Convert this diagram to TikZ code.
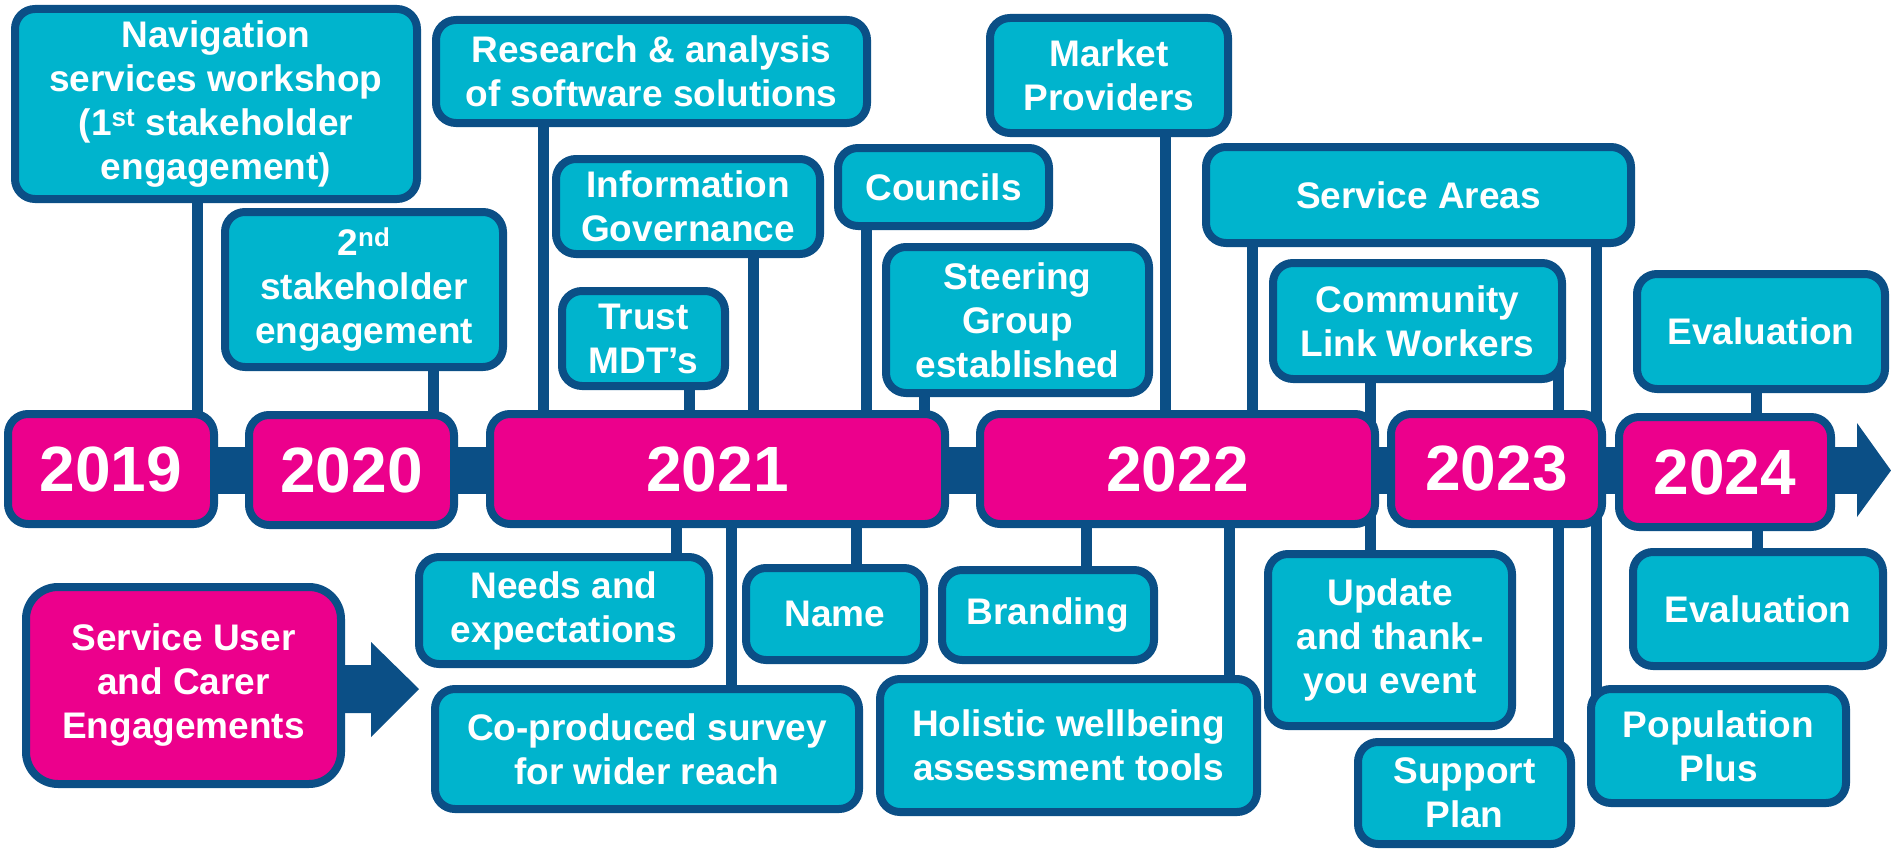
\documentclass[tikz,border=0pt]{standalone}
\usepackage{fontspec}
\setmainfont{Liberation Sans}
\usetikzlibrary{backgrounds}

\definecolor{boxcyan}{HTML}{00B4CD}
\definecolor{yearpink}{HTML}{EC008C}
\definecolor{edgeblue}{HTML}{0B4F86}

\tikzset{
  tbox/.style={draw=edgeblue, line width=8pt, fill=boxcyan, rounded corners=20pt,
    text=white, font=\bfseries\fontsize{37}{44}\selectfont, align=center, inner sep=0pt},
  ybox/.style={tbox, fill=yearpink, font=\bfseries\fontsize{64}{70}\selectfont},
  sbox/.style={tbox, fill=yearpink, rounded corners=32pt},
  conn/.style={draw=edgeblue, line width=11pt},
  band/.style={fill=edgeblue},
}

\begin{document}
\begin{tikzpicture}[x=1pt, y=-1pt]
\useasboundingbox (0,0) rectangle (1891,851);

% year boxes on the timeline
\node[ybox, minimum width=206pt, minimum height=110pt] (y19) at (111,469) {2019};
\node[ybox, minimum width=205pt, minimum height=110pt] (y20) at (351.5,470) {2020};
\node[ybox, minimum width=455pt, minimum height=110pt] (y21) at (717.5,469) {2021};
\node[ybox, minimum width=395pt, minimum height=110pt] (y22) at (1177.5,469) {2022};
\node[ybox, minimum width=211pt, minimum height=110pt] (y23) at (1496.5,469) {2023};
\node[ybox, minimum width=212pt, minimum height=110pt] (y24) at (1725,472) {2024};

% milestones above the timeline
\node[tbox, minimum width=402pt, minimum height=190pt] (nav) at (216,104)
  {Navigation\\services workshop\\(1\textsuperscript{st} stakeholder\\engagement)};
\node[tbox, minimum width=278pt, minimum height=155pt] (snd) at (364,289.5)
  {2\textsuperscript{nd}\\stakeholder\\engagement};
\node[tbox, minimum width=431pt, minimum height=103pt] (res) at (651.5,71.5)
  {Research \& analysis\\of software solutions};
\node[tbox, minimum width=264pt, minimum height=95pt] (info) at (688,206.5)
  {Information\\Governance};
\node[tbox, minimum width=163pt, minimum height=95pt] (trust) at (643.5,338.5)
  {Trust\\MDT’s};
\node[tbox, minimum width=211pt, minimum height=78pt] (coun) at (943.5,187)
  {Councils};
\node[tbox, minimum width=263pt, minimum height=146pt] (steer) at (1017.5,320)
  {Steering\\Group\\established};
\node[tbox, minimum width=238pt, minimum height=115pt] (market) at (1109,75.5)
  {Market\\Providers};
\node[tbox, minimum width=425pt, minimum height=96pt] (sarea) at (1418.5,195)
  {Service Areas};
\node[tbox, minimum width=289pt, minimum height=116pt] (clw) at (1417.5,321)
  {Community\\Link Workers};
\node[tbox, minimum width=248pt, minimum height=115pt] (evtop) at (1761,331.5)
  {Evaluation};

% milestones below the timeline
\node[tbox, minimum width=290pt, minimum height=107pt] (needs) at (564,610.5)
  {Needs and\\expectations};
\node[tbox, minimum width=424pt, minimum height=120pt] (copro) at (647,749)
  {Co-produced survey\\for wider reach};
\node[tbox, minimum width=178pt, minimum height=92pt] (name) at (835,614)
  {Name};
\node[tbox, minimum width=212pt, minimum height=90pt] (brand) at (1048,615)
  {Branding};
\node[tbox, minimum width=377pt, minimum height=133pt] (holis) at (1068.5,745.5)
  {Holistic wellbeing\\assessment tools};
\node[tbox, minimum width=244pt, minimum height=172pt] (update) at (1390,640)
  {Update\\and thank-\\you event};
\node[tbox, minimum width=213pt, minimum height=102pt] (support) at (1464.5,793)
  {Support\\Plan};
\node[tbox, minimum width=250pt, minimum height=114pt] (evbot) at (1758,609)
  {Evaluation};
\node[tbox, minimum width=255pt, minimum height=114pt] (pop) at (1718.5,746)
  {Population\\Plus};

% service user strand
\node[sbox, minimum width=315pt, minimum height=197pt] (su) at (183.5,685.5)
  {Service User\\and Carer\\Engagements};
\coordinate (sutip) at (419,689);
\coordinate (tltip) at (1891,470.5);

\begin{pgfonlayer}{background}
  % timeline band and arrow head
  \fill[band] (y19.center |- 0,447) rectangle (1857,494);
  \fill[band] (1857,423) -- (tltip) -- (1857,517) -- cycle;
  % block arrow from the service user box
  \fill[band] (su.center |- 0,665) -- (371,665) -- (371,642) -- (sutip)
    -- (371,737) -- (371,713) -- (su.center |- 0,713) -- cycle;

  % connectors above
  \draw[conn] (197,0 |- nav.center) -- (197,0 |- y19.center);
  \draw[conn] (433,0 |- snd.center) -- (433,0 |- y20.center);
  \draw[conn] (543,0 |- res.center) -- (543,0 |- y21.center);
  \draw[conn] (753,0 |- info.center) -- (753,0 |- y21.center);
  \draw[conn] (689,0 |- trust.center) -- (689,0 |- y21.center);
  \draw[conn] (866,0 |- coun.center) -- (866,0 |- y21.center);
  \draw[conn] (924,0 |- steer.center) -- (924,0 |- y21.center);
  \draw[conn] (1165,0 |- market.center) -- (1165,0 |- y22.center);
  \draw[conn] (1252,0 |- sarea.center) -- (1252,0 |- y22.center);
  \draw[conn] (1596,0 |- sarea.center) -- (1596,0 |- pop.center);
  \draw[conn] (1370,0 |- clw.center) -- (1370,0 |- update.center);
  \draw[conn] (1558,0 |- clw.center) -- (1558,0 |- support.center);
  \draw[conn] (1756,0 |- evtop.center) -- (1756,0 |- y24.center);

  % connectors below
  \draw[conn] (676,0 |- y21.center) -- (676,0 |- needs.center);
  \draw[conn] (731,0 |- y21.center) -- (731,0 |- copro.center);
  \draw[conn] (856,0 |- y21.center) -- (856,0 |- name.center);
  \draw[conn] (1086,0 |- y22.center) -- (1086,0 |- brand.center);
  \draw[conn] (1229,0 |- y22.center) -- (1229,0 |- holis.center);
  \draw[conn] (1757,0 |- y24.center) -- (1757,0 |- evbot.center);
\end{pgfonlayer}
\end{tikzpicture}
\end{document}
